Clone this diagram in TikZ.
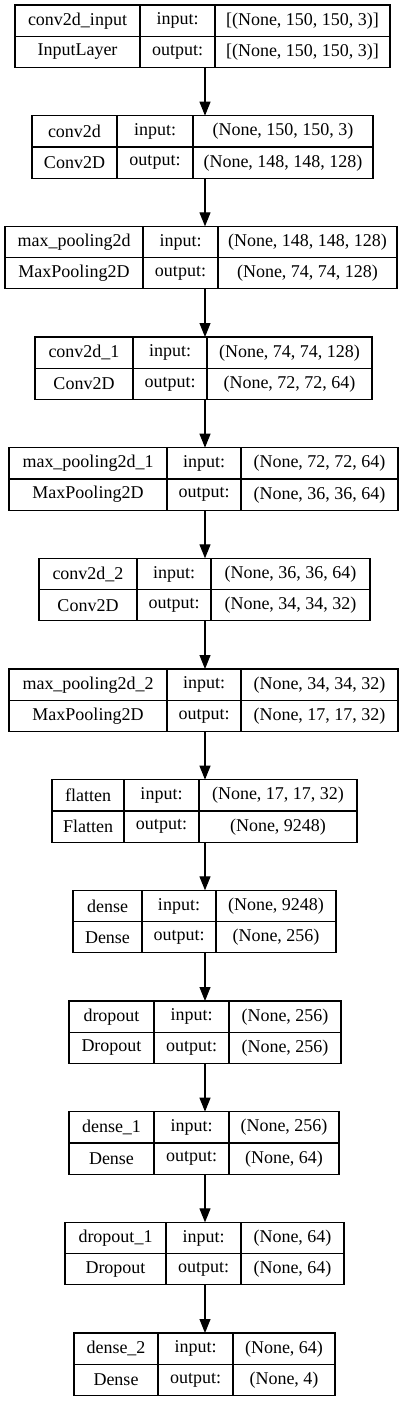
\documentclass[tikz,border=0pt]{standalone}
\usepackage{fontspec}
\setmainfont{Liberation Serif}
\usetikzlibrary{arrows.meta}
\newcommand\pickA[2]{#1}
\newcommand\pickB[2]{#2}
% #1 node name, #2 top, #3 left, #4 divider1, #5 divider2, #6 right, #7 layer name, #8 class, #9 {in}{out}
\newcommand\klayer[9]{%
  \node[layerbox, minimum width={(#6-#3)*1pt}, anchor=north west] (#1) at (#3,#2) {};
  \draw[divline] (#4,#2) -- ++(0,62.6);
  \draw[divline] (#5,#2) -- ++(0,62.6);
  \draw[divline] (#1.west) -- (#1.east);
  \node[txt] (#1-n) at ({(#3+#4)/2},{#2+15.8}) {#7};
  \node[txt] (#1-c) at ({(#3+#4)/2},{#2+47}) {#8};
  \node[txt] (#1-i) at ({(#4+#5)/2},{#2+15.8}) {input:};
  \node[txt] (#1-o) at ({(#4+#5)/2},{#2+47}) {output:};
  \node[txt] (#1-si) at ({(#5+#6)/2},{#2+15.8}) {\pickA#9};
  \node[txt] (#1-so) at ({(#5+#6)/2},{#2+47}) {\pickB#9};
}
\begin{document}
\begin{tikzpicture}[x=1pt,y=-1pt,
  layerbox/.style={draw=black, line width=1.1pt, minimum height=62.6pt, inner sep=0pt, outer sep=0pt},
  divline/.style={draw=black, line width=1.1pt},
  txt/.style={font=\fontsize{18}{20}\selectfont, inner sep=0pt},
  arr/.style={draw=black, line width=1.1pt, -{Triangle[length=14pt,width=11pt]}}]
\useasboundingbox (0,0) rectangle (409,1401);
\coordinate (ax) at (205,0);
\klayer{L0}{5}{15}{140}{215}{390}{conv2d\_input}{InputLayer}{{[(None, 150, 150, 3)]}{[(None, 150, 150, 3)]}}
\klayer{L1}{115.67}{32}{117}{193}{373}{conv2d}{Conv2D}{{(None, 150, 150, 3)}{(None, 148, 148, 128)}}
\klayer{L2}{226.33}{5}{143}{218}{397}{max\_pooling2d}{MaxPooling2D}{{(None, 148, 148, 128)}{(None, 74, 74, 128)}}
\klayer{L3}{337}{35}{133}{207}{372}{conv2d\_1}{Conv2D}{{(None, 74, 74, 128)}{(None, 72, 72, 64)}}
\klayer{L4}{447.67}{9}{167}{241}{398}{max\_pooling2d\_1}{MaxPooling2D}{{(None, 72, 72, 64)}{(None, 36, 36, 64)}}
\klayer{L5}{558.33}{39}{137}{211}{370}{conv2d\_2}{Conv2D}{{(None, 36, 36, 64)}{(None, 34, 34, 32)}}
\klayer{L6}{669}{9}{167}{241}{398}{max\_pooling2d\_2}{MaxPooling2D}{{(None, 34, 34, 32)}{(None, 17, 17, 32)}}
\klayer{L7}{779.67}{52}{124}{199}{357}{flatten}{Flatten}{{(None, 17, 17, 32)}{(None, 9248)}}
\klayer{L8}{890.33}{73}{142}{216}{336}{dense}{Dense}{{(None, 9248)}{(None, 256)}}
\klayer{L9}{1001}{69}{154}{229}{341}{dropout}{Dropout}{{(None, 256)}{(None, 256)}}
\klayer{L10}{1111.67}{69}{154}{229}{339}{dense\_1}{Dense}{{(None, 256)}{(None, 64)}}
\klayer{L11}{1222.33}{65}{166}{241}{344}{dropout\_1}{Dropout}{{(None, 64)}{(None, 64)}}
\klayer{L12}{1333}{74}{158}{233}{335}{dense\_2}{Dense}{{(None, 64)}{(None, 4)}}
\foreach \a/\b in {L0/L1,L1/L2,L2/L3,L3/L4,L4/L5,L5/L6,L6/L7,L7/L8,L8/L9,L9/L10,L10/L11,L11/L12}
  \draw[arr] (\a.south -| ax) -- (\b.north -| ax);
\end{tikzpicture}
\end{document}
